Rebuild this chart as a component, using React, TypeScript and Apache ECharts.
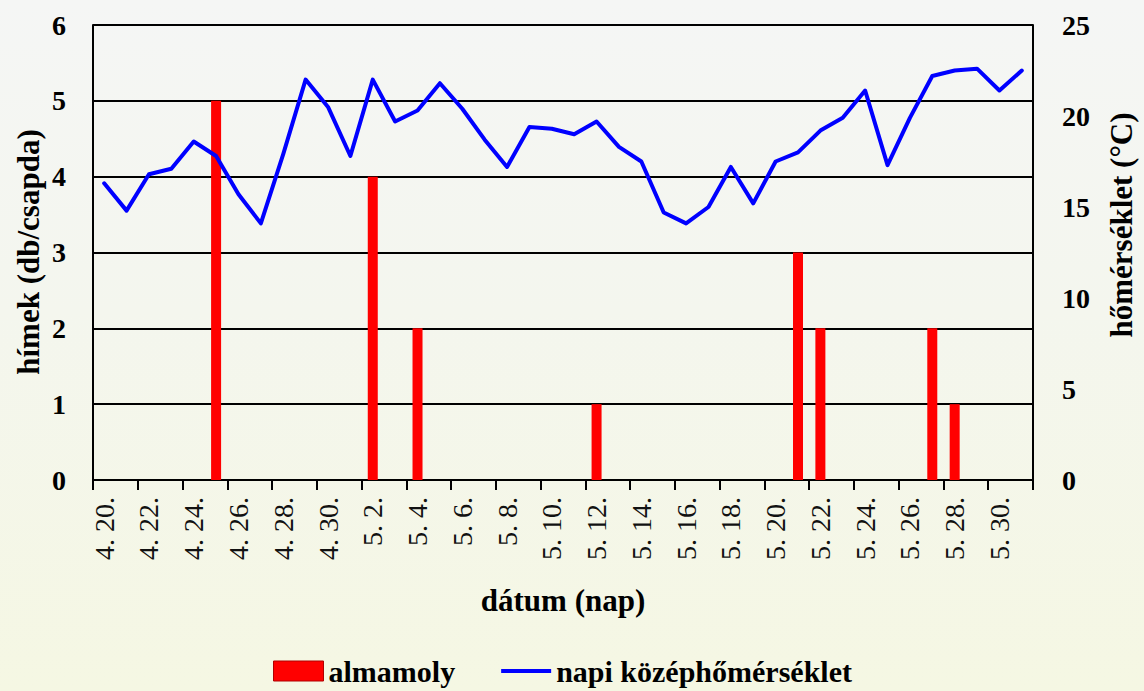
import React, { useEffect, useRef } from "react";
import * as echarts from "echarts";

const dates = [
  "4. 20.", "4. 21.", "4. 22.", "4. 23.", "4. 24.", "4. 25.", "4. 26.", "4. 27.", "4. 28.", "4. 29.", "4. 30.",
  "5. 1.", "5. 2.", "5. 3.", "5. 4.", "5. 5.", "5. 6.", "5. 7.", "5. 8.", "5. 9.", "5. 10.",
  "5. 11.", "5. 12.", "5. 13.", "5. 14.", "5. 15.", "5. 16.", "5. 17.", "5. 18.", "5. 19.", "5. 20.",
  "5. 21.", "5. 22.", "5. 23.", "5. 24.", "5. 25.", "5. 26.", "5. 27.", "5. 28.", "5. 29.", "5. 30.", "5. 31.",
];

const almamoly = [
  0, 0, 0, 0, 0, 5, 0, 0, 0, 0, 0,
  0, 4, 0, 2, 0, 0, 0, 0, 0, 0,
  0, 1, 0, 0, 0, 0, 0, 0, 0, 0,
  3, 2, 0, 0, 0, 0, 2, 1, 0, 0, 0,
];

const temperature = [
  16.3, 14.8, 16.8, 17.1, 18.6, 17.8, 15.7, 14.1, 17.9, 22.0, 20.5,
  17.8, 22.0, 19.7, 20.3, 21.8, 20.4, 18.7, 17.2, 19.4, 19.3,
  19.0, 19.7, 18.3, 17.5, 14.7, 14.1, 15.0, 17.2, 15.2, 17.5,
  18.0, 19.2, 19.9, 21.4, 17.3, 19.9, 22.2, 22.5, 22.6, 21.4, 22.5,
];

const FONT = "'Liberation Serif', 'Times New Roman', Times, serif";

export default function App() {
  const ref = useRef<HTMLDivElement>(null);
  useEffect(() => {
    document.body.style.margin = "0";
    const chart = echarts.init(ref.current!, null, { renderer: "svg" });
    chart.setOption({
      animation: false,
      backgroundColor: "transparent",
      textStyle: { fontFamily: FONT },
      grid: { left: 93, right: 111, top: 25, bottom: 211, outerBoundsMode: "none" },
      legend: {
        left: 268,
        top: 651,
        itemWidth: 50,
        itemHeight: 20,
        itemGap: 46,
        selectedMode: false,
        symbolKeepAspect: true,
        textStyle: { fontSize: 30, fontWeight: "bold", color: "#000", fontFamily: FONT },
        data: [
          { name: "almamoly", icon: "rect", itemStyle: { color: "#ff0000", borderColor: "#b00000", borderWidth: 1 } },
          { name: "napi középhőmérséklet", icon: "path://M0,0H50V4H0Z", itemStyle: { color: "#0000ff" } },
        ],
      },
      xAxis: {
        type: "category",
        data: dates,
        boundaryGap: true,
        axisLine: { lineStyle: { color: "#000", width: 2 } },
        axisTick: { show: true, interval: 1, length: 10, lineStyle: { color: "#000", width: 2 } },
        axisLabel: { interval: 1, rotate: 90, fontSize: 28, color: "#111", margin: 17, fontFamily: FONT },
        splitLine: { show: false },
      },
      yAxis: [
        {
          type: "value",
          min: 0,
          max: 6,
          interval: 1,
          position: "left",
          axisLine: { show: true, lineStyle: { color: "#000", width: 2 } },
          axisTick: { show: false },
          splitLine: { show: true, lineStyle: { color: "#000", width: 2 } },
          axisLabel: { fontSize: 28, fontWeight: "bold", color: "#000", margin: 27, fontFamily: FONT },
        },
        {
          type: "value",
          min: 0,
          max: 25,
          interval: 5,
          position: "right",
          axisLine: { show: true, lineStyle: { color: "#000", width: 2 } },
          axisTick: { show: false },
          splitLine: { show: false },
          axisLabel: { fontSize: 28, fontWeight: "bold", color: "#000", margin: 29, fontFamily: FONT },
        },
      ],
      series: [
        {
          name: "almamoly",
          type: "bar",
          yAxisIndex: 0,
          data: almamoly,
          barWidth: 10,
          itemStyle: { color: "#ff0000", borderWidth: 0 },
        },
        {
          name: "napi középhőmérséklet",
          type: "line",
          yAxisIndex: 1,
          data: temperature,
          symbol: "none",
          itemStyle: { color: "#0000ff" },
          lineStyle: { color: "#0000ff", width: 4, join: "round", cap: "round" },
        },
      ],
      graphic: [
        {
          type: "text",
          x: 28,
          y: 252,
          rotation: Math.PI / 2,
          style: {
            text: "hímek (db/csapda)",
            font: `bold 31px ${FONT}`,
            fill: "#000",
            align: "center",
            verticalAlign: "middle",
          },
        },
        {
          type: "text",
          x: 1121,
          y: 225,
          rotation: Math.PI / 2,
          style: {
            text: "hőmérséklet (°C)",
            font: `bold 31px ${FONT}`,
            fill: "#000",
            align: "center",
            verticalAlign: "middle",
          },
        },
        {
          type: "text",
          x: 563,
          y: 600,
          style: {
            text: "dátum (nap)",
            font: `bold 31px ${FONT}`,
            fill: "#000",
            align: "center",
            verticalAlign: "middle",
          },
        },
      ],
    });
    return () => chart.dispose();
  }, []);
  return (
    <div
      ref={ref}
      style={{
        position: "absolute",
        left: 0,
        top: 0,
        width: 1144,
        height: 691,
        background: "linear-gradient(180deg, #f5f6f5 0%, #f4f6ee 45%, #f5f7e3 100%)",
      }}
    />
  );
}
